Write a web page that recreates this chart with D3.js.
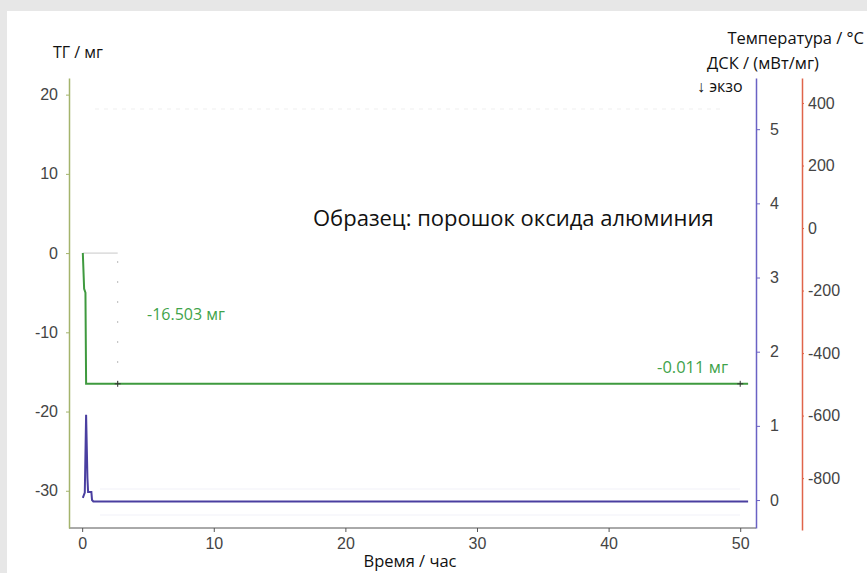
<!DOCTYPE html>
<html>
<head>
<meta charset="utf-8">
<script src="https://cdn.jsdelivr.net/npm/d3@7"></script>
<style>
  body { margin: 0; background: #e7e7e7; }
  #chart { position: absolute; left: 0; top: 0; }
</style>
</head>
<body>
<div id="chart"></div>
<script>
//
// TG / DSC plot, alumina powder
//
var tgTime = [0.05, 0.15, 0.25, 0.3, 3.0, 50.6];
var tgMass = [0, -4.5, -5.0, -16.5, -16.5, -16.5];

var dscTime = [0.05, 0.2, 0.3, 0.4, 0.45, 0.7, 0.75, 0.85, 50.6];
var dscValue = [0.03, 0.1, 1.15, 0.3, 0.11, 0.11, 0.0, -0.02, -0.02];

var timeTicks = [0, 10, 20, 30, 40, 50];
var tgTicks = [20, 10, 0, -10, -20, -30];
var dscTicks = [0, 1, 2, 3, 4, 5];
var tempTicks = [400, 200, 0, -200, -400, -600, -800];

var width = 867, height = 573;
var labelFont = "'Liberation Sans', Arial, sans-serif";
var titleFont = "'Open Sans', 'Noto Sans', sans-serif";
var tgColor = "#3f9a3f";
var dscColor = "#4a3fa0";
var plain = function (d) { return String(d); };   // keep hyphen minus

var svg = d3.select("#chart")
    .append("svg")
    .attr("width", width)
    .attr("height", height);

// white panel
svg.append("rect")
    .attr("x", 7).attr("y", 11)
    .attr("width", width - 7).attr("height", height - 11)
    .attr("fill", "#ffffff");

var x = d3.scaleLinear().domain([-1, 51.2]).range([69, 756]);
var yTg = d3.scaleLinear().domain([-34.7, 22.1]).range([528, 78]);
var yDsc = d3.scaleLinear().domain([-0.377, 5.69]).range([528, 78]);
var yTemp = d3.scaleLinear().domain([-966, 480]).range([530, 78]);

// faint background gridlines
[489, 515].forEach(function (yy) {
    svg.append("line")
        .attr("x1", 100).attr("x2", 740)
        .attr("y1", yy).attr("y2", yy)
        .attr("stroke", "#f1f1f8").attr("stroke-width", 1);
});
svg.append("line")
    .attr("x1", 95).attr("x2", 720)
    .attr("y1", 109).attr("y2", 109)
    .attr("stroke", "#efefef")
    .attr("stroke-dasharray", "4,5");

function styleLabels(g, dx, dy) {
    g.selectAll("text")
        .attr("x", dx)
        .style("font-family", labelFont)
        .style("font-size", "16px")
        .attr("fill", "#444");
    if (dy != null) g.selectAll("text").attr("y", dy);
}

// x axis
var xAxis = svg.append("g")
    .attr("transform", "translate(0,528)")
    .call(d3.axisBottom(x).tickValues(timeTicks).tickFormat(plain).tickSize(4).tickSizeOuter(0));
xAxis.select(".domain").attr("stroke", "#555").attr("d", "M69,0H756");
xAxis.selectAll(".tick line").attr("stroke", "#555");
styleLabels(xAxis, 0, 10);

// TG axis (left)
var tgAxis = svg.append("g")
    .attr("transform", "translate(69,0)")
    .call(d3.axisLeft(yTg).tickValues(tgTicks).tickFormat(plain).tickSize(3).tickSizeOuter(0));
tgAxis.select(".domain").attr("stroke", "#a4b46c").attr("stroke-width", 1.5);
tgAxis.selectAll(".tick line").attr("stroke", "#a4b46c");
styleLabels(tgAxis, -11);

// DSC axis (right, blue)
var dscAxis = svg.append("g")
    .attr("transform", "translate(756,0)")
    .call(d3.axisRight(yDsc).tickValues(dscTicks).tickFormat(plain).tickSize(4).tickSizeOuter(0));
dscAxis.select(".domain").attr("stroke", "#6a62c4").attr("stroke-width", 1.5);
dscAxis.selectAll(".tick line").attr("stroke", "#6a62c4");
styleLabels(dscAxis, 14);

// Temperature axis (right, red)
var tempAxis = svg.append("g")
    .attr("transform", "translate(802,0)")
    .call(d3.axisRight(yTemp).tickValues(tempTicks).tickFormat(plain).tickSize(2).tickSizeOuter(0));
tempAxis.select(".domain").attr("stroke", "#e0644a").attr("stroke-width", 1.5);
tempAxis.selectAll(".tick line").attr("stroke", "#e0644a");
styleLabels(tempAxis, 6);

// step marker lines for TG
svg.append("line")
    .attr("x1", x(0.05)).attr("x2", x(2.7))
    .attr("y1", yTg(0)).attr("y2", yTg(0))
    .attr("stroke", "#c8c8c8").attr("stroke-width", 1);
svg.append("line")
    .attr("x1", x(2.7)).attr("x2", x(2.7))
    .attr("y1", yTg(-1)).attr("y2", yTg(-16.5))
    .attr("stroke", "#bbbbbb")
    .attr("stroke-dasharray", "2,18");

// TG curve
var tgLine = d3.line()
    .x(function (d) { return x(d[0]); })
    .y(function (d) { return yTg(d[1]); });
svg.append("path")
    .datum(d3.zip(tgTime, tgMass))
    .attr("d", tgLine)
    .attr("fill", "none")
    .attr("stroke", tgColor)
    .attr("stroke-width", 2);

// small cross markers at step ends
[2.7, 50.0].forEach(function (t) {
    svg.append("path")
        .attr("d", "M" + (x(t) - 3) + "," + yTg(-16.5) + "h6M" + x(t) + "," + (yTg(-16.5) - 3) + "v6")
        .attr("stroke", "#333").attr("stroke-width", 1);
});

// DSC curve
var dscLine = d3.line()
    .x(function (d) { return x(d[0]); })
    .y(function (d) { return yDsc(d[1]); });
svg.append("path")
    .datum(d3.zip(dscTime, dscValue))
    .attr("d", dscLine)
    .attr("fill", "none")
    .attr("stroke", dscColor)
    .attr("stroke-width", 2);

// titles
function title(txt, xx, yy, anchor, size, color) {
    return svg.append("text")
        .attr("x", xx).attr("y", yy)
        .attr("text-anchor", anchor || "start")
        .style("font-family", titleFont)
        .style("font-size", (size || 16) + "px")
        .attr("fill", color || "#111")
        .text(txt);
}

title("ТГ / мг", 53, 58, "start", 16);
title("Температура / °C", 864, 44, "end", 16.5);
title("ДСК / (мВт/мг)", 707, 69, "start", 16.5);
title("↓ экзо", 697, 92, "start", 16);
title("Время / час", 410, 567, "middle", 16.5);
title("Образец: порошок оксида алюминия", 313, 226, "start", 22);

// annotations
title("-16.503 мг", 147, 320, "start", 16, "#3fa34a");
title("-0.011 мг", 728, 373, "end", 16.5, "#3fa34a");
</script>
</body>
</html>
